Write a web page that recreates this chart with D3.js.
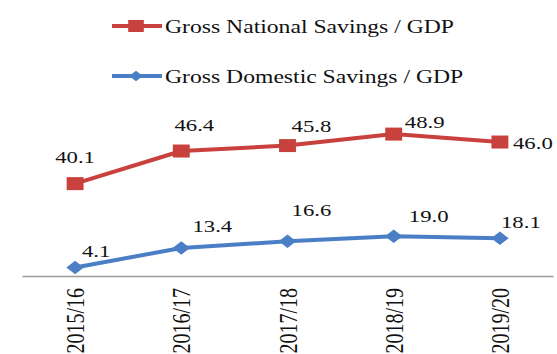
<!DOCTYPE html>
<html>
<head>
<meta charset="utf-8">
<script src="https://cdn.jsdelivr.net/npm/d3@7"></script>
<style>
  html, body { margin: 0; padding: 0; background: #fff; }
  svg { display: block; }
  text { font-family: "Liberation Serif", "Times New Roman", serif; fill: #111; }
</style>
</head>
<body>
<svg id="chart" width="557" height="354"></svg>
<script>
// Savings ratios, percent of GDP
const categories = ["2015/16", "2016/17", "2017/18", "2018/19", "2019/20"];
const nationalSavings = [40.1, 46.4, 45.8, 48.9, 46.0];
const domesticSavings = [4.1, 13.4, 16.6, 19.0, 18.1];
const seriesNames = ["Gross National Savings / GDP", "Gross Domestic Savings / GDP"];
const seriesColors = ["#c8413c", "#4a7fc6"];

// Hand-placed data label offsets (px from each marker: label centre x, baseline y)
const nationalLabelOffset = [[0, -21], [13, -20], [24, -14], [31, -6], [33, 7]];
const domesticLabelOffset = [[21, -10], [31, -16], [24, -25], [35, -14], [21, -10]];

const FONT = '"Liberation Serif", "Times New Roman", serif';
const SX = 1.3; // horizontal glyph/marker stretch
const svg = d3.select("#chart");

// Stacked line layout: domestic at the bottom, national stacked on top
const rows = categories.map((c, i) => ({ cat: c, domestic: domesticSavings[i], national: nationalSavings[i] }));
const stacked = d3.stack().keys(["domestic", "national"])(rows);

const x = d3.scalePoint().domain(categories).range([22, 553]).padding(0.5);
const y = d3.scaleLinear().domain([0, 80]).range([276, 108.8]);

// Category axis
const axisG = svg.append("g")
  .attr("transform", `translate(0,${y(0)})`)
  .call(d3.axisBottom(x).tickSize(0).tickSizeOuter(0));
axisG.select(".domain").attr("stroke", "#9a9a9a").attr("stroke-width", 1.6);
axisG.selectAll(".tick text")
  .attr("x", 0).attr("y", 0).attr("dy", "0.33em")
  .attr("text-anchor", "end")
  .attr("transform", `translate(0,12) scale(${SX},1) rotate(-90)`)
  .attr("font-family", FONT)
  .attr("font-size", 20)
  .attr("fill", "#111");

const line = d3.line().x(d => x(d.data.cat)).y(d => y(d[1]));

const layers = [
  { stack: stacked[1], color: seriesColors[0], values: nationalSavings, offsets: nationalLabelOffset, marker: "square" },
  { stack: stacked[0], color: seriesColors[1], values: domesticSavings, offsets: domesticLabelOffset, marker: "diamond" }
];

const squarePath = d3.symbol(d3.symbolSquare, 13 * 13)();
const diamondPath = d3.symbol(d3.symbolSquare, 90)();

function markerTransform(type, px, py) {
  return type === "square"
    ? `translate(${px},${py}) scale(${SX},1)`
    : `translate(${px},${py}) scale(${SX},1) rotate(45)`;
}

layers.forEach(L => {
  svg.append("path")
    .datum(L.stack)
    .attr("d", line)
    .attr("fill", "none")
    .attr("stroke", L.color)
    .attr("stroke-width", 4)
    .attr("stroke-linejoin", "round");

  svg.append("g").selectAll("path")
    .data(L.stack)
    .join("path")
    .attr("d", L.marker === "square" ? squarePath : diamondPath)
    .attr("transform", d => markerTransform(L.marker, x(d.data.cat), y(d[1])))
    .attr("fill", L.color);

  svg.append("g").selectAll("text")
    .data(L.stack)
    .join("text")
    .attr("text-anchor", "middle")
    .attr("transform", (d, i) => `translate(${x(d.data.cat) + L.offsets[i][0]},${y(d[1]) + L.offsets[i][1]}) scale(${SX},1)`)
    .attr("font-family", FONT)
    .attr("font-size", 17.5)
    .text((d, i) => d3.format(".1f")(L.values[i]));
});

// Legend
const legend = svg.append("g");
const legendItems = [
  { name: seriesNames[0], color: seriesColors[0], marker: "square", y: 26 },
  { name: seriesNames[1], color: seriesColors[1], marker: "diamond", y: 76 }
];
legendItems.forEach(it => {
  legend.append("line")
    .attr("x1", 112).attr("x2", 162)
    .attr("y1", it.y).attr("y2", it.y)
    .attr("stroke", it.color).attr("stroke-width", 4);
  legend.append("path")
    .attr("d", it.marker === "square" ? d3.symbol(d3.symbolSquare, 144)() : d3.symbol(d3.symbolSquare, 55)())
    .attr("transform", markerTransform(it.marker, 136, it.y))
    .attr("fill", it.color);
  legend.append("text")
    .attr("transform", `translate(165,${it.y + 6.5}) scale(${SX},1)`)
    .attr("font-family", FONT)
    .attr("font-size", 18.2)
    .text(it.name);
});
</script>
</body>
</html>
